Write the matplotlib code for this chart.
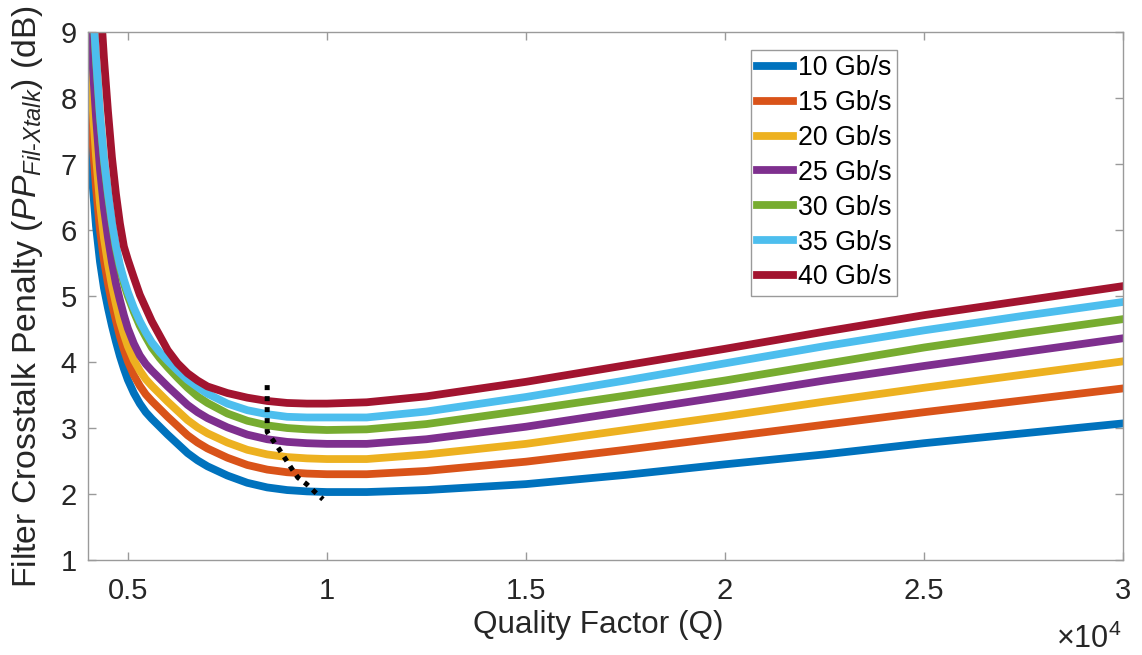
import matplotlib
matplotlib.use("Agg")
import matplotlib.pyplot as plt
from matplotlib.ticker import FuncFormatter

plt.rcParams['font.family'] = ['Liberation Sans', 'DejaVu Sans']
plt.rcParams['mathtext.fontset'] = 'custom'
plt.rcParams['mathtext.rm'] = 'Liberation Sans'
plt.rcParams['mathtext.it'] = 'Liberation Sans:italic'

# ---- data ----
q = [4000, 4100, 4200, 4300, 4400, 4500, 4600, 4700, 4800, 4900, 5000, 5150,
     5300, 5450, 5600, 5800, 6000, 6250, 6500, 6750, 7000, 7500, 8000, 8500,
     9000, 9500, 10000, 11000, 12500, 15000, 17500, 20000, 22500, 25000,
     27500, 30000]

pen_10 = [7.74, 6.80, 6.06, 5.52, 5.12, 4.82, 4.55, 4.31, 4.09, 3.90, 3.73, 3.53,
          3.37, 3.24, 3.14, 3.02, 2.90, 2.76, 2.62, 2.51, 2.42, 2.28, 2.17, 2.10,
          2.06, 2.04, 2.03, 2.03, 2.06, 2.15, 2.29, 2.45, 2.60, 2.77,
          2.92, 3.07]
pen_15 = [8.43, 7.45, 6.64, 6.00, 5.54, 5.19, 4.89, 4.63, 4.39, 4.19, 4.01, 3.80,
          3.64, 3.51, 3.41, 3.29, 3.17, 3.03, 2.89, 2.78, 2.69, 2.55, 2.44, 2.37,
          2.33, 2.31, 2.30, 2.30, 2.35, 2.49, 2.67, 2.86, 3.05, 3.24,
          3.42, 3.60]
pen_20 = [9.03, 8.00, 7.12, 6.40, 5.88, 5.49, 5.16, 4.88, 4.62, 4.42, 4.24, 4.03,
          3.87, 3.74, 3.64, 3.52, 3.40, 3.26, 3.12, 3.01, 2.92, 2.78, 2.67, 2.60,
          2.56, 2.54, 2.53, 2.53, 2.60, 2.76, 2.97, 3.18, 3.40, 3.61,
          3.81, 4.01]
pen_25 = [9.73, 8.65, 7.72, 6.92, 6.33, 5.89, 5.51, 5.19, 4.94, 4.71, 4.51, 4.28,
          4.10, 3.97, 3.87, 3.75, 3.63, 3.49, 3.35, 3.24, 3.15, 3.01, 2.90, 2.83,
          2.79, 2.77, 2.76, 2.76, 2.83, 3.02, 3.25, 3.48, 3.72, 3.94,
          4.15, 4.36]
pen_30 = [10.78, 9.60, 8.57, 7.70, 7.04, 6.53, 6.09, 5.72, 5.43, 5.19, 5.00, 4.76,
          4.55, 4.38, 4.22, 4.06, 3.92, 3.76, 3.61, 3.48, 3.38, 3.22, 3.11, 3.04,
          3.00, 2.98, 2.97, 2.98, 3.06, 3.27, 3.49, 3.72, 3.97, 4.22,
          4.44, 4.65]
pen_35 = [10.83, 9.65, 8.62, 7.74, 7.08, 6.57, 6.13, 5.76, 5.47, 5.25, 5.06, 4.82,
          4.62, 4.45, 4.30, 4.15, 4.02, 3.87, 3.73, 3.62, 3.52, 3.37, 3.27, 3.21,
          3.17, 3.16, 3.16, 3.16, 3.25, 3.47, 3.72, 3.98, 4.24, 4.48,
          4.70, 4.91]
pen_40 = [13.5, 12.2, 10.9, 9.55, 8.60, 7.80, 7.10, 6.55, 6.10, 5.75, 5.55, 5.28,
          5.02, 4.82, 4.62, 4.40, 4.18, 3.98, 3.83, 3.72, 3.63, 3.53, 3.46, 3.41,
          3.38, 3.37, 3.37, 3.39, 3.48, 3.70, 3.95, 4.20, 4.46, 4.71,
          4.93, 5.15]

series = [pen_10, pen_15, pen_20, pen_25, pen_30, pen_35, pen_40]
labels = ['10 Gb/s', '15 Gb/s', '20 Gb/s', '25 Gb/s', '30 Gb/s', '35 Gb/s', '40 Gb/s']
colors = ['#0072BD', '#D95319', '#EDB120', '#7E2F8E', '#77AC30', '#4DBEEE', '#A2142F']

# locus of the minima (black dotted line)
opt_q = [8500, 8500, 8650, 8800, 8960, 9110, 9270, 9490, 9700, 9900]
opt_v = [3.65, 2.94, 2.81, 2.68, 2.53, 2.39, 2.25, 2.15, 2.03, 1.92]

x_ticks = [5000, 10000, 15000, 20000, 25000, 30000]
y_ticks = [1, 2, 3, 4, 5, 6, 7, 8, 9]
x_scale_text = r'$\times10^{4}$'

# ---- figure ----
fig = plt.figure(figsize=(11.42, 6.55), dpi=100)
ax = fig.add_axes([0.0771, 0.1450, 0.9834 - 0.0771, 0.9511 - 0.1450])

for vals, lab, col in zip(series, labels, colors):
    ax.plot(q, vals, color=col, lw=5.6, label=lab, solid_joinstyle='round')

ax.plot(opt_q, opt_v, color='black', lw=3.6, linestyle=(0, (1.0, 1.2)),
        dash_capstyle='butt')

ax.set_xlim(4000, 30000)
ax.set_ylim(1, 9)
ax.set_xticks(x_ticks)
ax.set_yticks(y_ticks)
ax.xaxis.set_major_formatter(FuncFormatter(lambda v, p: f'{v / 1e4:g}'))

text_col = '#262626'
axis_col = '#9a9a9a'
for s in ax.spines.values():
    s.set_color(axis_col)
    s.set_linewidth(1.0)
ax.tick_params(direction='in', length=6, width=1.0, colors=axis_col,
               labelcolor=text_col, labelsize=21, top=True, right=True)
ax.tick_params(axis='x', pad=12)
ax.tick_params(axis='y', pad=8)

ax.annotate(x_scale_text, xy=(1.0, 0.0), xycoords='axes fraction',
            xytext=(-2, -88), textcoords='offset pixels', ha='right',
            va='baseline', fontsize=22, color=text_col)

ax.set_xlabel('Quality Factor (Q)', fontsize=22.7, color=text_col)
ax.xaxis.set_label_coords(0.4928, -0.094)
ax.set_ylabel(r'Filter Crosstalk Penalty ($\mathit{PP}_{\mathit{Fil}\text{-}\mathit{Xtalk}}$) (dB)',
              fontsize=24.3, color=text_col)
ax.yaxis.set_label_coords(-0.042, 0.5)

leg = ax.legend(loc='upper left', bbox_to_anchor=(0.641, 0.966), fontsize=19.3,
                frameon=True, fancybox=False, framealpha=1, edgecolor='#9a9a9a',
                handlelength=1.35, handletextpad=0.2, labelspacing=0.33,
                borderpad=0.2, borderaxespad=0)
leg.get_frame().set_linewidth(1.0)

fig.savefig('out.png', dpi=100)
